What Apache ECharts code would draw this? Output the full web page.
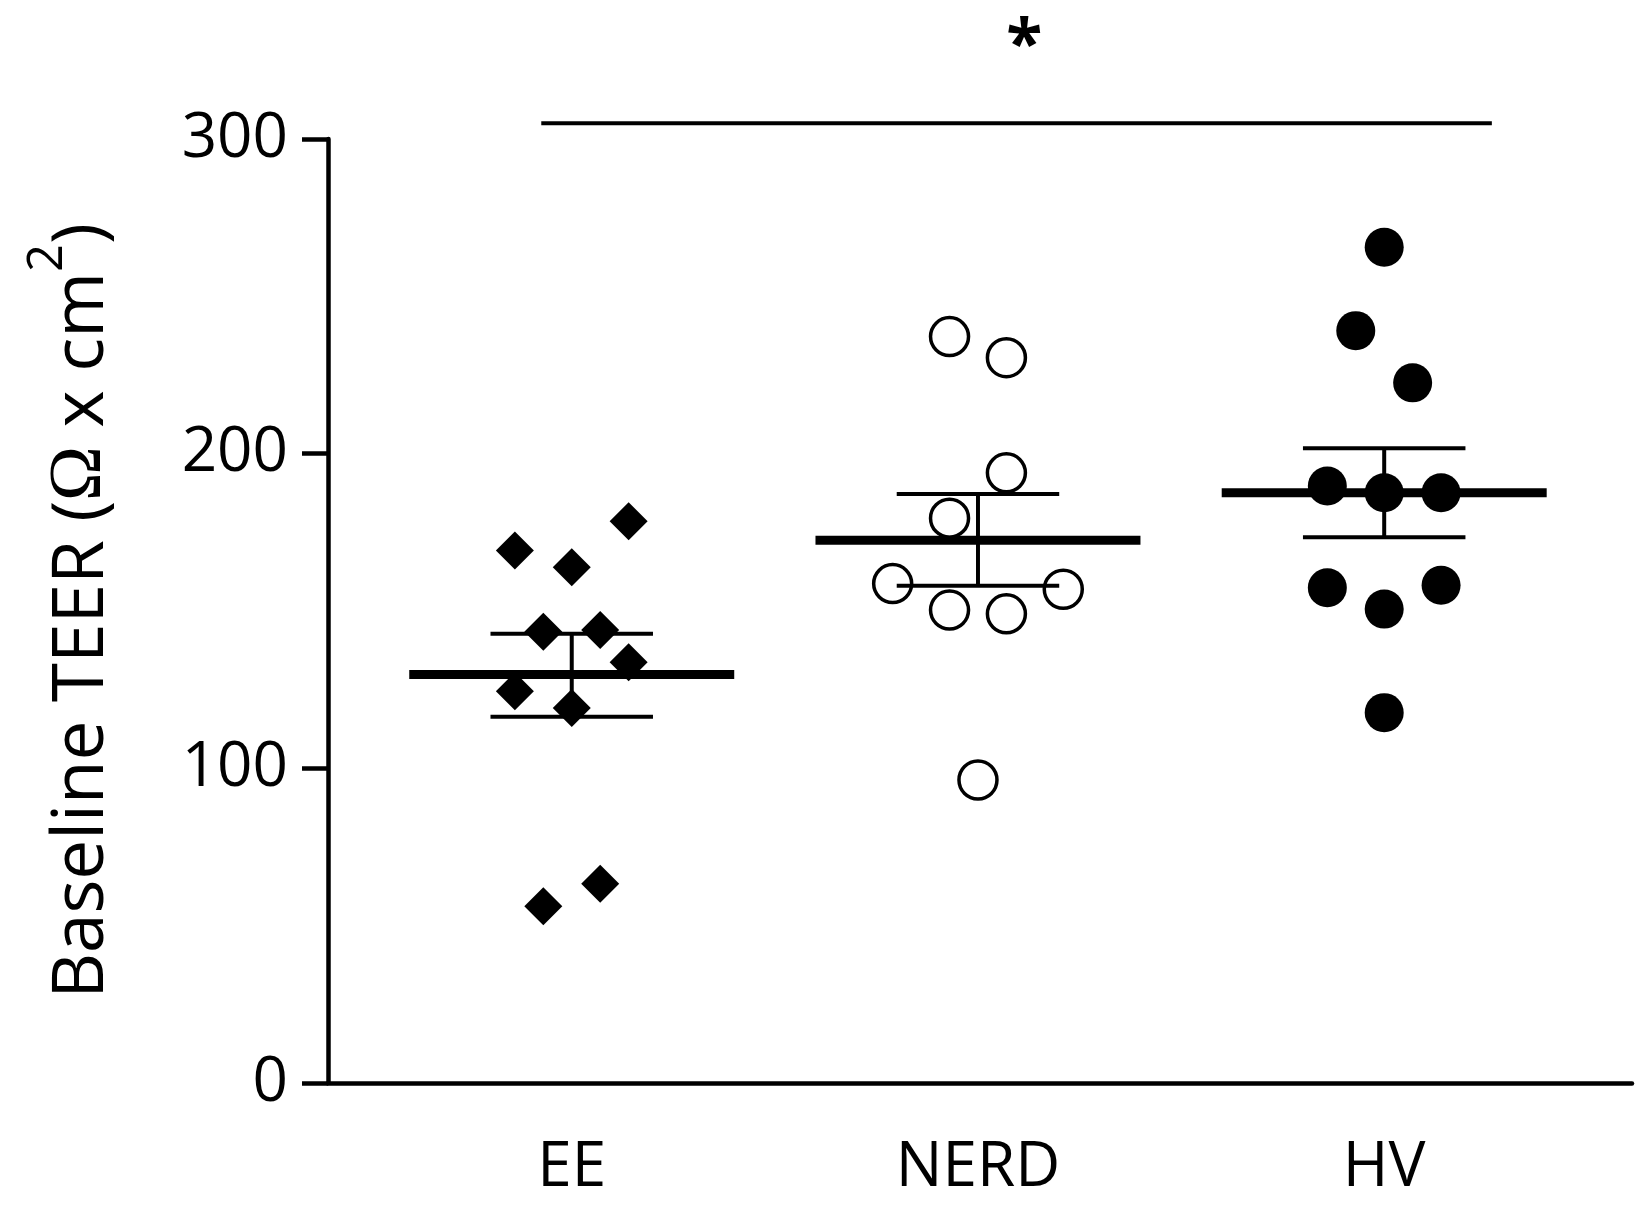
<!DOCTYPE html>
<html>
<head>
<meta charset="utf-8">
<title>Baseline TEER</title>
<script src="https://cdn.jsdelivr.net/npm/echarts@6/dist/echarts.min.js"></script>
<style>
  html, body { margin: 0; padding: 0; background: #fff; }
  #container { width: 1648px; height: 1205px; }
</style>
</head>
<body>
<div id="container"></div>
<script>
// groups on the x axis
var groups = ['EE', 'NERD', 'HV'];

// individual values, with their horizontal jitter
var eeValues = [169.2, 163.9, 178.5, 143.4, 144.0, 133.7, 124.5, 119.2, 56.2, 63.3];
var eeOffsets = [-0.14, 0, 0.14, -0.07, 0.07, 0.14, -0.14, 0, -0.07, 0.07];
var nerdValues = [237.2, 230.5, 193.9, 179.5, 158.7, 156.9, 150.3, 149.1, 96.3];
var nerdOffsets = [-0.07, 0.07, 0.07, -0.07, -0.21, 0.21, -0.07, 0.07, 0];
var hvValues = [265.6, 239.1, 222.5, 189.7, 187.6, 187.6, 157.4, 158.2, 150.6, 117.7];
var hvOffsets = [0, -0.07, 0.07, -0.14, 0, 0.14, -0.14, 0.14, 0, 0];

// mean and SEM limits
var means = [129.8, 172.5, 187.6];
var semLow = [116.4, 158.0, 173.4];
var semHigh = [142.8, 187.2, 201.7];

// y ticks
var yTicks = [0, 100, 200, 300];

// significance bar
var sigBar = [[-0.075, 305], [2.265, 305]];
var sigStar = [[1.114, 329]];

function points(idx, values, offsets) {
    return values.map(function (v, i) { return [idx + offsets[i], v]; });
}

var myChart = echarts.init(document.getElementById('container'));

var font = 'Open Sans';

var option = {
    backgroundColor: '#fff',
    animation: false,
    grid: {
        left: 328,
        right: 16,
        top: 139,
        bottom: 122,
        containLabel: false
    },
    xAxis: {
        type: 'value',
        min: -0.6,
        max: 2.61,
        splitLine: { show: false },
        axisLine: { show: true, onZero: false, lineStyle: { color: '#000', width: 4.5 } },
        axisTick: { show: false },
        axisLabel: {
            customValues: [0, 1, 2],
            formatter: function (v) { return groups[Math.round(v)]; },
            color: '#000',
            fontFamily: font,
            fontSize: 62,
            margin: 54
        }
    },
    yAxis: {
        type: 'value',
        min: yTicks[0],
        max: yTicks[yTicks.length - 1],
        interval: 100,
        splitLine: { show: false },
        axisLine: { show: true, onZero: false, lineStyle: { color: '#000', width: 4.5 } },
        axisTick: { show: true, length: 26, lineStyle: { color: '#000', width: 4.5 } },
        axisLabel: {
            color: '#000',
            fontFamily: font,
            fontSize: 62,
            margin: 40
        },
        name: '{a|Baseline TEER (}{o|Ω}{a| x cm}{s|2}{a|)}',
        nameLocation: 'middle',
        nameRotate: 90,
        nameGap: 210,
        nameTextStyle: {
            rich: {
                a: { fontFamily: font, fontSize: 71, color: '#000', verticalAlign: 'bottom' },
                o: { fontFamily: 'Liberation Serif', fontSize: 74, color: '#000', verticalAlign: 'bottom' },
                s: { fontFamily: font, fontSize: 49, color: '#000', verticalAlign: 'bottom', padding: [0, 0, 45, 0] }
            }
        }
    },
    series: [
        {
            name: 'EE',
            type: 'scatter',
            z: 2,
            symbol: 'diamond',
            symbolSize: 38,
            itemStyle: { color: '#000', opacity: 1 },
            data: points(0, eeValues, eeOffsets)
        },
        {
            name: 'NERD',
            type: 'scatter',
            z: 2,
            symbol: 'circle',
            symbolSize: 38,
            itemStyle: { color: '#fff', borderColor: '#000', borderWidth: 3.5, opacity: 1 },
            data: points(1, nerdValues, nerdOffsets)
        },
        {
            name: 'HV',
            type: 'scatter',
            z: 2,
            symbol: 'circle',
            symbolSize: 39,
            itemStyle: { color: '#000', opacity: 1 },
            data: points(2, hvValues, hvOffsets)
        },
        {
            // mean line + SEM whiskers
            type: 'custom',
            z: 3,
            data: means.map(function (m, i) { return [i, m, semLow[i], semHigh[i]]; }),
            renderItem: function (params, api) {
                var x = api.value(0), m = api.value(1), lo = api.value(2), hi = api.value(3);
                var ml = api.coord([x - 0.4, m]), mr = api.coord([x + 0.4, m]);
                var top = api.coord([x, hi]), bot = api.coord([x, lo]);
                var capL = api.coord([x - 0.2, hi])[0], capR = api.coord([x + 0.2, hi])[0];
                var thin = { stroke: '#000', lineWidth: 4 };
                return {
                    type: 'group',
                    children: [
                        { type: 'line', shape: { x1: top[0], y1: top[1], x2: bot[0], y2: bot[1] }, style: thin },
                        { type: 'line', shape: { x1: capL, y1: top[1], x2: capR, y2: top[1] }, style: thin },
                        { type: 'line', shape: { x1: capL, y1: bot[1], x2: capR, y2: bot[1] }, style: thin },
                        { type: 'line', shape: { x1: ml[0], y1: ml[1], x2: mr[0], y2: mr[1] }, style: { stroke: '#000', lineWidth: 9 } }
                    ]
                };
            }
        },
        {
            // significance bar
            type: 'line',
            clip: false,
            symbol: 'none',
            lineStyle: { color: '#000', width: 4 },
            data: sigBar
        },
        {
            type: 'scatter',
            clip: false,
            symbolSize: 1,
            itemStyle: { color: 'rgba(0,0,0,0)', opacity: 1 },
            label: {
                show: true,
                position: 'inside',
                formatter: '*',
                color: '#000',
                fontFamily: font,
                fontWeight: 'bold',
                fontSize: 66
            },
            data: sigStar
        }
    ]
};

myChart.setOption(option);
</script>
</body>
</html>
